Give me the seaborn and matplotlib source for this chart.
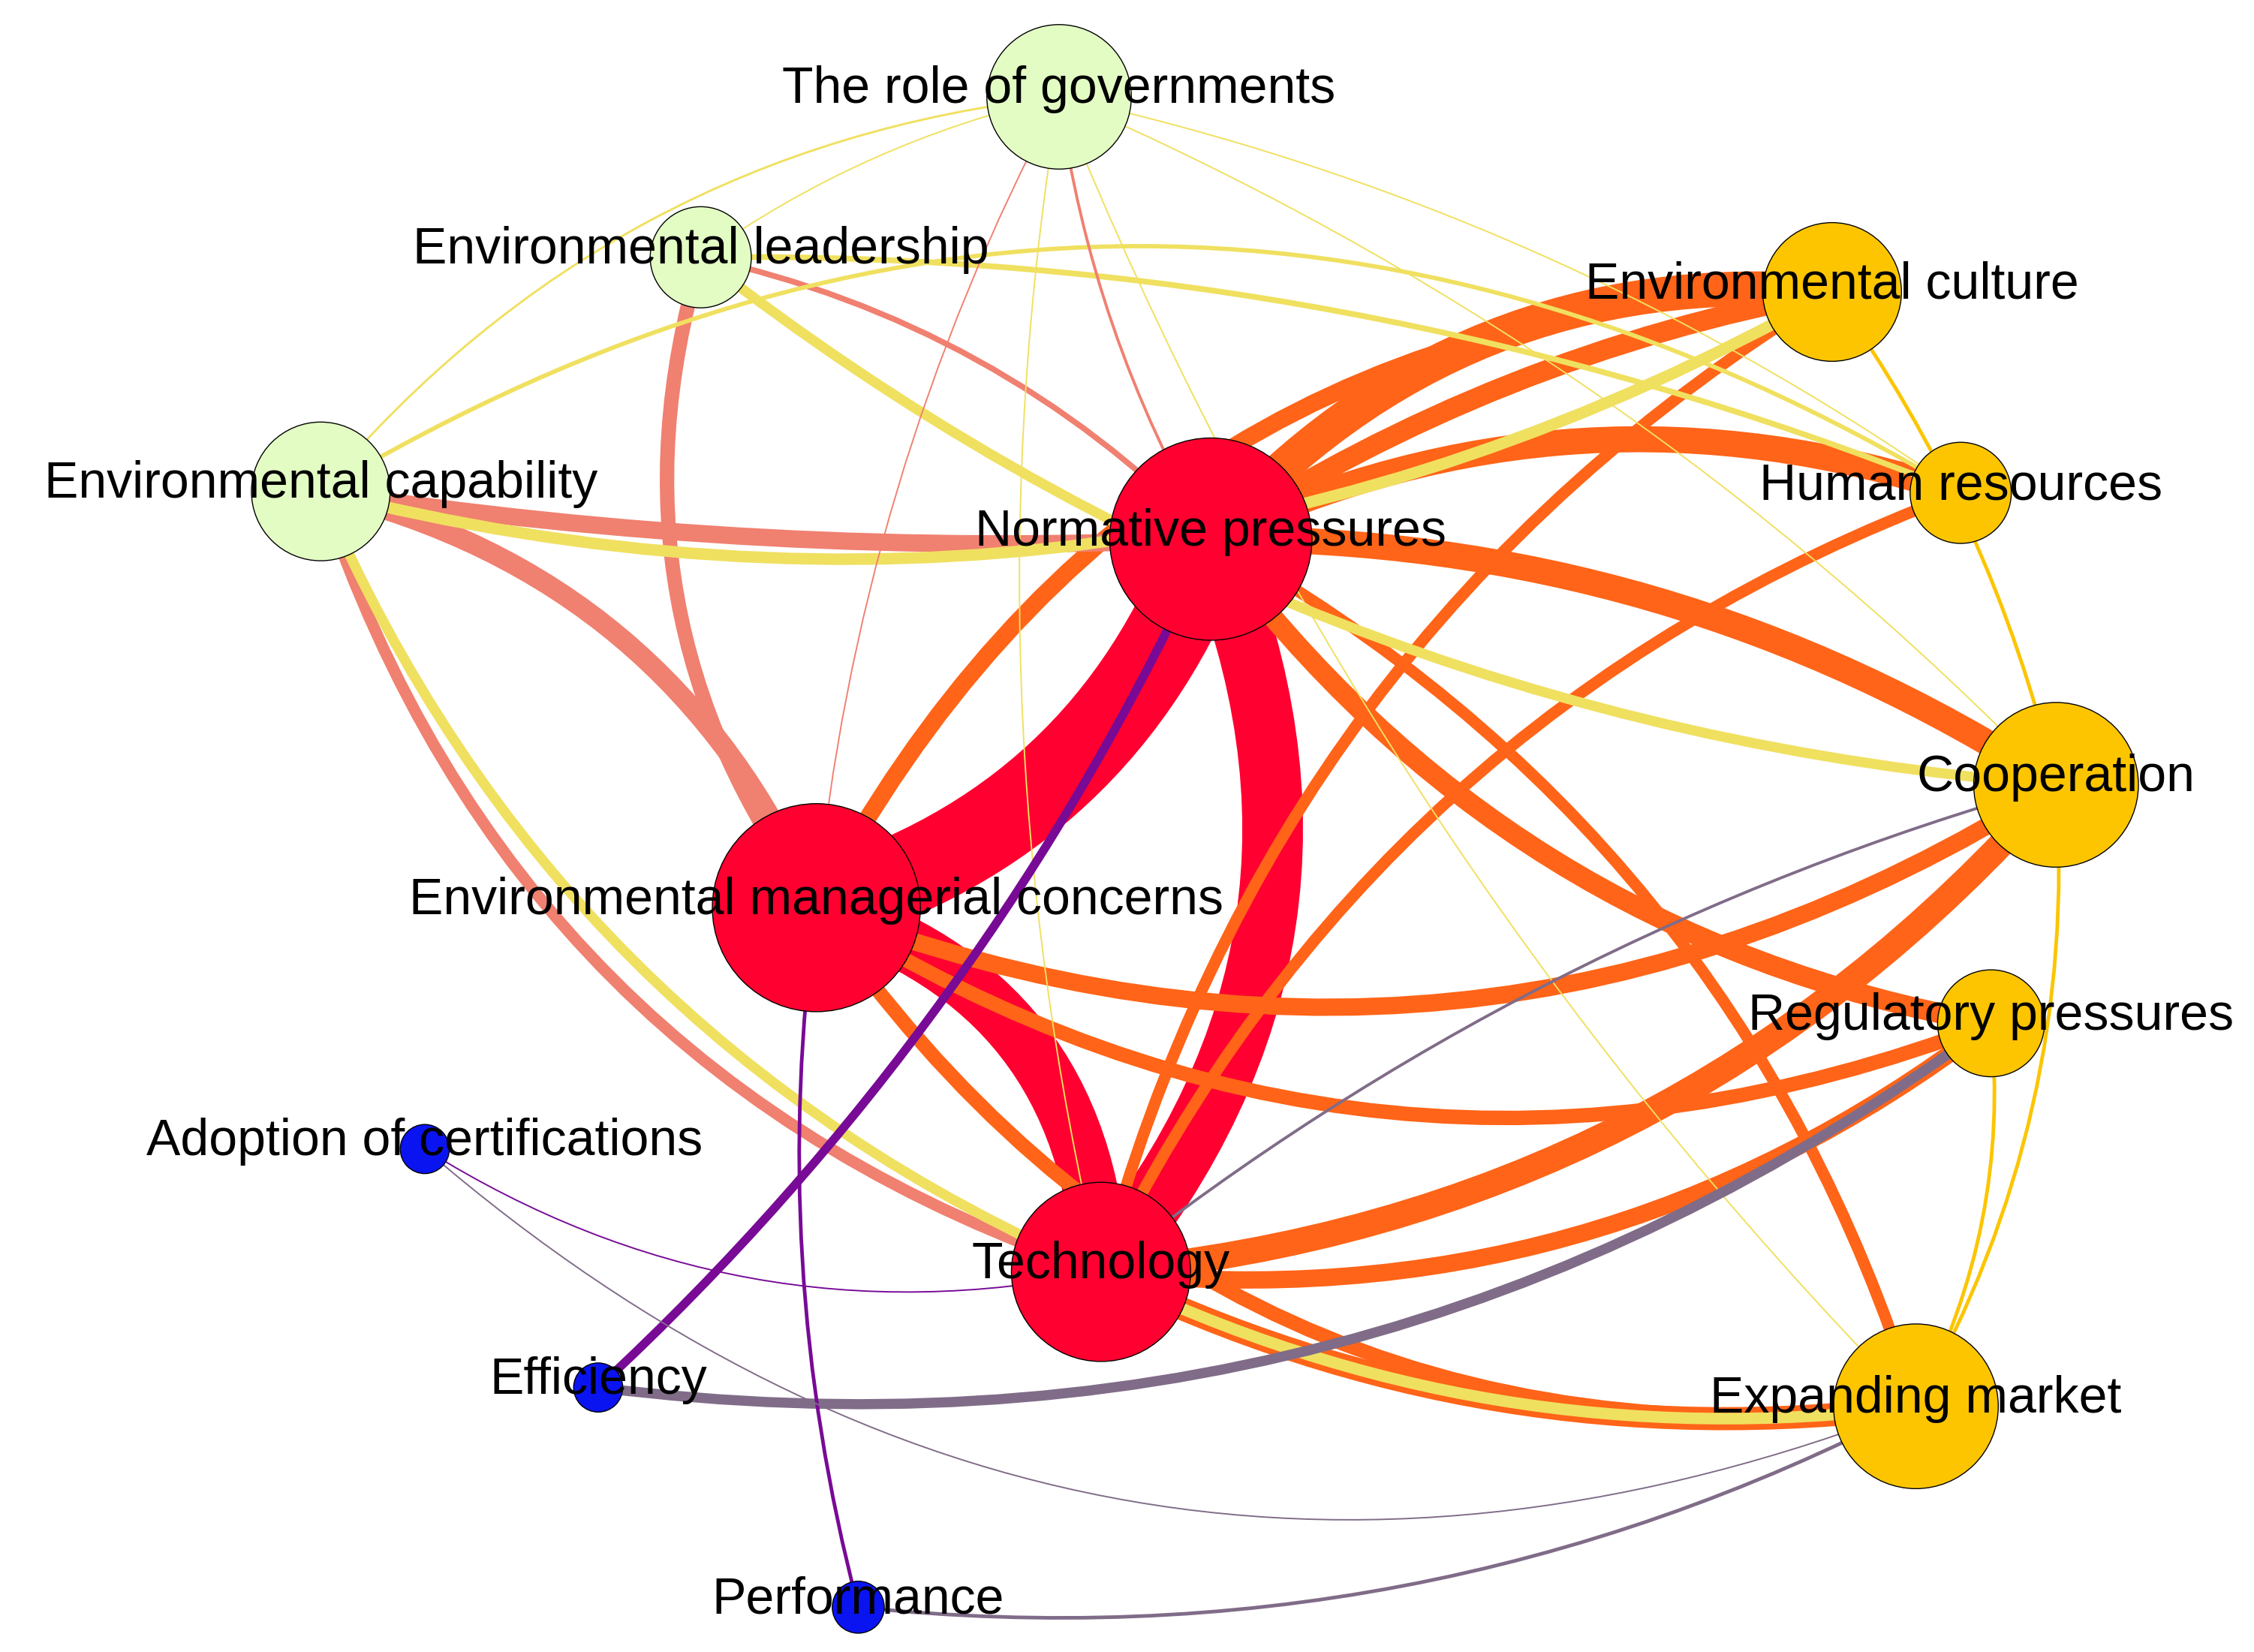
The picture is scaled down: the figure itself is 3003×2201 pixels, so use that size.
import matplotlib
matplotlib.use("Agg")
import matplotlib.pyplot as plt
from matplotlib.patches import FancyArrowPatch
import seaborn as sns

# nodes: name, layout x/y (in reference pixel units), radius, group colour
node_names = ["The role of governments", "Environmental leadership", "Environmental capability",
              "Normative pressures", "Environmental managerial concerns", "Technology",
              "Environmental culture", "Human resources", "Cooperation", "Regulatory pressures",
              "Expanding market", "Adoption of certifications", "Efficiency", "Performance"]
node_x = [733, 485, 222, 838, 565, 762, 1268, 1357, 1423, 1378, 1326, 294, 414, 594]
node_y = [67, 178, 340, 373, 628, 880, 202, 341, 543, 708, 973, 795, 960, 1112]
node_r = [50, 35, 48, 70, 72, 62, 48, 35, 57, 37, 57, 17, 17, 18]
node_col = ["#e2fcc4"] * 3 + ["#ff0030"] * 3 + ["#fcc500"] * 5 + ["#0a14f0"] * 3

# edges: source, target, width (reference px), colour, curvature
edge_src = [4, 3, 4, 3, 3, 3, 3, 4, 4, 4, 4, 5, 5, 5, 5, 3, 3, 5,
            2, 2, 2, 1, 1, 2, 1, 1, 2, 2, 5,
            0, 0, 0, 0, 0, 0, 0, 0,
            6, 9, 8, 12, 12, 13, 13, 11, 11, 8]
edge_dst = [3, 5, 5, 6, 7, 8, 6, 6, 8, 9, 10, 8, 10, 7, 6, 10, 9, 9,
            3, 4, 5, 4, 3, 6, 8, 7, 7, 5, 10,
            2, 3, 5, 7, 8, 10, 4, 1,
            8, 10, 10, 3, 9, 4, 10, 5, 10, 5]
edge_w = [58, 42, 38, 24, 18, 18, 14, 12, 12, 10, 10, 18, 16, 8, 8, 8, 14, 12,
          12, 14, 8, 10, 4, 8, 7, 4, 3, 7, 8,
          1.5, 2, 1, 1, 1, 1, 1, 1,
          2.5, 2.5, 2.5, 6, 7, 2.5, 2.5, 1, 1, 2]
edge_col = ["#ff0030"] * 3 + ["#ff6418"] * 15 + ["#f08070"] * 3 + ["#f08070", "#f08070"] \
    + ["#f0e060"] * 6 + ["#f0e060", "#f08070", "#f0e060", "#f0e060", "#f0e060", "#f0e060", "#f08070", "#f0e060"] \
    + ["#fcc500"] * 3 + ["#780a96", "#806c88", "#780a96", "#806c88", "#780a96", "#806c88", "#806c88"]
edge_rad = [0.25, -0.3, -0.35, -0.25, -0.2, -0.15, -0.1, -0.3, 0.25, 0.25, 0.3, 0.2, 0.15, -0.2, -0.2, -0.2, 0.2, 0.2,
            0.05, -0.25, 0.25, 0.25, -0.15, 0.2, 0.15, -0.1, -0.3, 0.2, 0.15,
            0.2, 0.1, 0.1, -0.1, -0.1, 0.1, 0.1, 0.1,
            -0.1, -0.15, -0.15, 0.1, 0.2, -0.1, 0.15, 0.2, 0.3, 0.1]

sns.set_style("white")
plt.rcParams['font.family'] = ['Liberation Sans', 'DejaVu Sans']

fig = plt.figure(figsize=(30.03, 22.01), dpi=100)
ax = fig.add_axes([0, 0, 1, 1])
ax.set_xlim(0, 1560)
ax.set_ylim(1143, 0)
ax.axis("off")

px_to_pt = 1.925 * 72 / 100

for s, t, w, c, r in zip(edge_src, edge_dst, edge_w, edge_col, edge_rad):
    p = FancyArrowPatch((node_x[s], node_y[s]), (node_x[t], node_y[t]),
                        connectionstyle=f"arc3,rad={r}", arrowstyle="-",
                        lw=w * px_to_pt, color=c, zorder=1, capstyle="round")
    ax.add_patch(p)

sizes = [(2 * r * px_to_pt) ** 2 for r in node_r]
sns.scatterplot(x=node_x, y=node_y, hue=node_names, palette=dict(zip(node_names, node_col)),
                s=sizes, edgecolor="black", linewidth=1, legend=False, ax=ax, zorder=3)

for name, x, y in zip(node_names, node_x, node_y):
    ax.text(x, y - 5, name, ha="center", va="center", fontsize=49, color="black", zorder=4)

fig.savefig("out.png", dpi=100)
